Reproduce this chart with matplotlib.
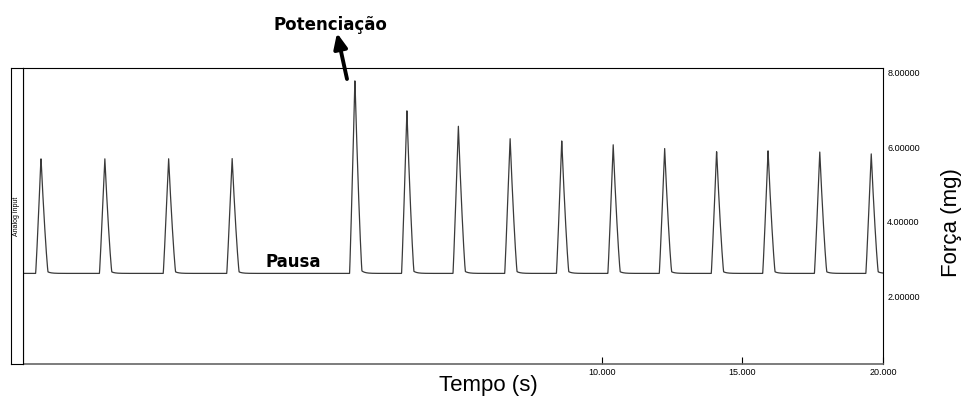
import numpy as np
import matplotlib
matplotlib.use("Agg")
import matplotlib.pyplot as plt

peak_t = [-9.96, -7.69, -5.42, -3.16, 1.21, 3.06, 4.89, 6.73, 8.57, 10.40, 12.23, 14.08, 15.91, 17.75, 19.58]
peak_h = [5.73, 5.73, 5.73, 5.73, 7.83, 6.98, 6.59, 6.28, 6.19, 6.07, 5.99, 5.92, 5.92, 5.88, 5.85]
baseline = 2.61
yticks = [2, 4, 6, 8]
xticks = [10, 15, 20]

plt.rcParams['font.family'] = ['Liberation Sans', 'DejaVu Sans']

t = np.linspace(-10.6, 20, 6000)
y = np.full_like(t, baseline)
for tp, h in zip(peak_t, peak_h):
    a = h - baseline
    d = t - tp
    rise = a * np.clip(1 + d / 0.19, 0, None) ** 1.1
    fall = a * (0.9 * np.clip(1 - d / 0.25, 0, None) ** 1.2
                + 0.1 * np.exp(-np.clip(d, 0, None) / 0.12))
    y += np.where(d < 0, rise, fall)

fig = plt.figure(figsize=(9.64, 4.03), dpi=100)
ax = fig.add_axes([23 / 964, 39 / 403, 860 / 964, 296 / 403])
ax.plot(t, y, color='#3a3a3a', lw=0.9)
ax.set_xlim(-10.6, 20)
ax.set_ylim(0.175, 8.13)

ax.yaxis.tick_right()
ax.set_yticks(yticks)
ax.set_yticklabels(['%.5f' % v for v in yticks], fontsize=6.5)
ax.tick_params(axis='y', length=0, pad=3)
ax.set_xticks(xticks)
ax.set_xticklabels(['%.3f' % v for v in xticks], fontsize=6.5)
ax.tick_params(axis='x', direction='in', length=5, width=0.8, pad=3)
for s in ['top', 'right', 'left']:
    ax.spines[s].set_linewidth(0.8)
    ax.spines[s].set_color('black')
ax.spines['bottom'].set_color('#666666')
ax.spines['bottom'].set_linewidth(1.2)

# faixa "Analog input" a esquerda
strip = fig.add_axes([11 / 964, 39 / 403, 12 / 964, 296 / 403])
strip.set_xticks([])
strip.set_yticks([])
for s in strip.spines.values():
    s.set_linewidth(0.8)
strip.text(0.5, 0.5, 'Analog input', rotation=90, ha='center', va='center',
           fontsize=5, transform=strip.transAxes)

fig.text(488 / 964, 1 - 385 / 403, 'Tempo (s)', ha='center', va='center', fontsize=16)
fig.text(951 / 964, 1 - 223 / 403, 'Força (mg)', rotation=90, ha='center', va='center', fontsize=16)

fig.text(330 / 964, 1 - 25 / 403, 'Potenciação', ha='center', va='center',
         fontsize=12, fontweight='bold', family='DejaVu Sans')
fig.text(293 / 964, 1 - 262 / 403, 'Pausa', ha='center', va='center',
         fontsize=12, fontweight='bold', family='DejaVu Sans')
ax.annotate('', xy=(337 / 964, 1 - 33 / 403), xytext=(347 / 964, 1 - 79 / 403),
            xycoords='figure fraction', textcoords='figure fraction',
            arrowprops=dict(arrowstyle='-|>,head_width=0.4,head_length=0.9',
                            color='black', lw=2.8, shrinkA=0, shrinkB=0),
            annotation_clip=False)

fig.savefig('out.png', dpi=100)
